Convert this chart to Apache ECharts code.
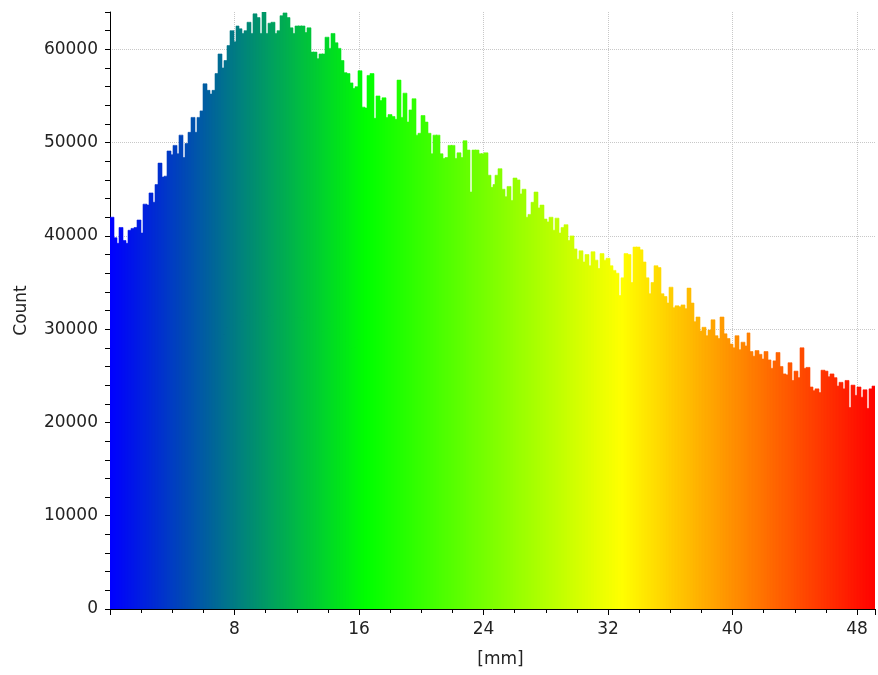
<!DOCTYPE html>
<html>
<head>
<meta charset="utf-8">
<title>Histogram [mm]</title>
<script src="https://cdn.jsdelivr.net/npm/echarts@6/dist/echarts.min.js"></script>
<style>
    html, body { margin: 0; padding: 0; background: #ffffff; }
    #main { width: 878px; height: 675px; }
</style>
</head>
<body>
<div id="main"></div>
<script>
// histogram bins: 256 bins of 0.192 mm starting at 0
var binStart = 0;
var binWidth = 0.192;
var xMax = 49.152;
var yMax = 64000;

var xTickLabels = [8, 16, 24, 32, 40, 48];
var yTickLabels = [0, 10000, 20000, 30000, 40000, 50000, 60000];

var counts = [
    42000, 39800, 39200, 40900, 39500, 39200, 40600, 40800, 40900, 41700,
    40300, 43400, 43300, 44600, 43600, 45500, 47800, 46300, 46400, 49100,
    48700, 49700, 48800, 50800, 48400, 49900, 51100, 52700, 51100, 52700,
    53400, 56300, 55600, 55200, 55600, 57400, 59500, 58000, 58800, 60400,
    62000, 60800, 62500, 62200, 61700, 62000, 62900, 61700, 63800, 63400,
    61700, 64000, 61700, 62800, 62900, 61700, 62000, 63600, 63900, 63400,
    62300, 61700, 62500, 62500, 62500, 61800, 62300, 59700, 59700, 59000,
    59500, 59500, 61300, 60100, 61700, 60700, 60100, 58800, 57500, 57400,
    56400, 55800, 56000, 57700, 53800, 53700, 57200, 57400, 52600, 55000,
    54500, 54800, 52700, 53000, 52800, 52500, 56700, 52700, 55300, 52200,
    53500, 54700, 50800, 51000, 52900, 52200, 51000, 48800, 50800, 50800,
    48800, 48300, 48400, 49700, 49700, 48300, 48900, 48400, 50200, 49200,
    44700, 49200, 49200, 48800, 48800, 48900, 46500, 45200, 45500, 46500,
    47200, 45000, 44200, 45300, 43800, 46200, 46000, 44500, 45000, 42000,
    42300, 43600, 44700, 43000, 43300, 41800, 41500, 42000, 40600, 41900,
    40300, 40900, 41200, 39500, 40000, 38600, 37500, 38400, 37200, 38000,
    36800, 38300, 37400, 36500, 38100, 37400, 37600, 36800, 36300, 36000,
    33600, 35500, 38100, 38000, 35000, 38800, 38800, 38500, 37200, 35500,
    33800, 35000, 36800, 36600, 33800, 33500, 32800, 34500, 32300, 32500,
    32400, 32600, 32200, 34400, 32800, 30800, 31300, 29800, 30200, 29300,
    29900, 31000, 29300, 29000, 31300, 29500, 29000, 28400, 28000, 29300,
    27800, 28600, 28200, 29600, 27600, 27100, 27700, 27300, 26800, 27600,
    26700, 25800, 26600, 27500, 26000, 25200, 25100, 26400, 24500, 25500,
    24800, 28000, 25800, 25900, 23800, 23400, 23600, 23200, 25600, 25500,
    24900, 25200, 24800, 23900, 24300, 23600, 24500, 21600, 24000, 22900,
    23800, 22700, 23500, 21500, 23600, 23900
];

var gradientColors = ["#0000ff", "#00ff00", "#ffff00", "#ff0000"];

var chart = echarts.init(document.getElementById("main"), null, { renderer: "canvas" });

var binData = counts.map(function (c, i) {
    return [binStart + i * binWidth, c];
});

var labelFont = {
    color: "#222222",
    fontFamily: "DejaVu Sans",
    fontSize: 17,
};

function renderBin(params, api) {
    var x0 = api.value(0);
    var p0 = api.coord([x0, api.value(1)]);
    var p1 = api.coord([x0 + binWidth, 0]);
    var color = api.visual("color");
    return {
        type: "rect",
        shape: {
            x: Math.round(p0[0]),
            y: p0[1],
            width: Math.round(p1[0]) - Math.round(p0[0]) + 1,
            height: p1[1] - p0[1],
        },
        style: { fill: color, stroke: color, lineWidth: 0.6 },
    };
}

var option = {
    backgroundColor: "#ffffff",
    animation: false,
    grid: { left: 110, right: 0, top: 12, bottom: 66 },
    visualMap: {
        show: false,
        type: "continuous",
        seriesIndex: 0,
        dimension: 0,
        min: 0,
        max: xMax,
        inRange: { color: gradientColors },
    },
    xAxis: [
        {
            type: "value",
            min: 0,
            max: xMax,
            interval: 8,
            name: "[mm]",
            nameLocation: "middle",
            nameGap: 42,
            nameTextStyle: Object.assign({ padding: [0, 0, 0, 16] }, labelFont),
            axisLine: { lineStyle: { color: "#000000", width: 1 } },
            axisTick: { length: 6, lineStyle: { color: "#000000" } },
            axisLabel: {
                margin: 12,
                color: "#222222",
                fontFamily: "DejaVu Sans",
                fontSize: 17,
                formatter: function (v) {
                    return xTickLabels.indexOf(v) >= 0 ? String(v) : "";
                },
            },
            splitLine: {
                show: true,
                showMinLine: false,
                showMaxLine: false,
                lineStyle: { color: "#c8c8c8", type: "dotted", width: 1 },
            },
        },
        {
            // minor ticks every 2 mm
            type: "value",
            position: "bottom",
            min: 0,
            max: xMax,
            interval: 2,
            axisLine: { show: false },
            axisTick: { length: 4, lineStyle: { color: "#000000" } },
            axisLabel: { show: false },
            splitLine: { show: false },
        },
    ],
    yAxis: [
        {
            type: "value",
            min: 0,
            max: yMax,
            interval: 10000,
            name: "Count",
            nameLocation: "middle",
            nameGap: 80,
            nameTextStyle: labelFont,
            axisLine: { show: true, lineStyle: { color: "#000000", width: 1 } },
            axisTick: { show: true, length: 5, lineStyle: { color: "#000000" } },
            axisLabel: {
                margin: 12,
                color: "#222222",
                fontFamily: "DejaVu Sans",
                fontSize: 17,
                formatter: function (v) {
                    return yTickLabels.indexOf(v) >= 0 ? String(v) : "";
                },
            },
            splitLine: {
                show: true,
                showMinLine: false,
                showMaxLine: false,
                lineStyle: { color: "#c8c8c8", type: "dotted", width: 1 },
            },
        },
        {
            // minor ticks every 2000
            type: "value",
            position: "left",
            min: 0,
            max: yMax,
            interval: 2000,
            axisLine: { show: false },
            axisTick: { show: true, length: 5, lineStyle: { color: "#000000" } },
            axisLabel: { show: false },
            splitLine: { show: false },
        },
    ],
    series: [
        {
            type: "custom",
            xAxisIndex: 0,
            yAxisIndex: 0,
            clip: true,
            renderItem: renderBin,
            encode: { x: 0, y: 1 },
            data: binData,
        },
    ],
};

chart.setOption(option);
</script>
</body>
</html>
